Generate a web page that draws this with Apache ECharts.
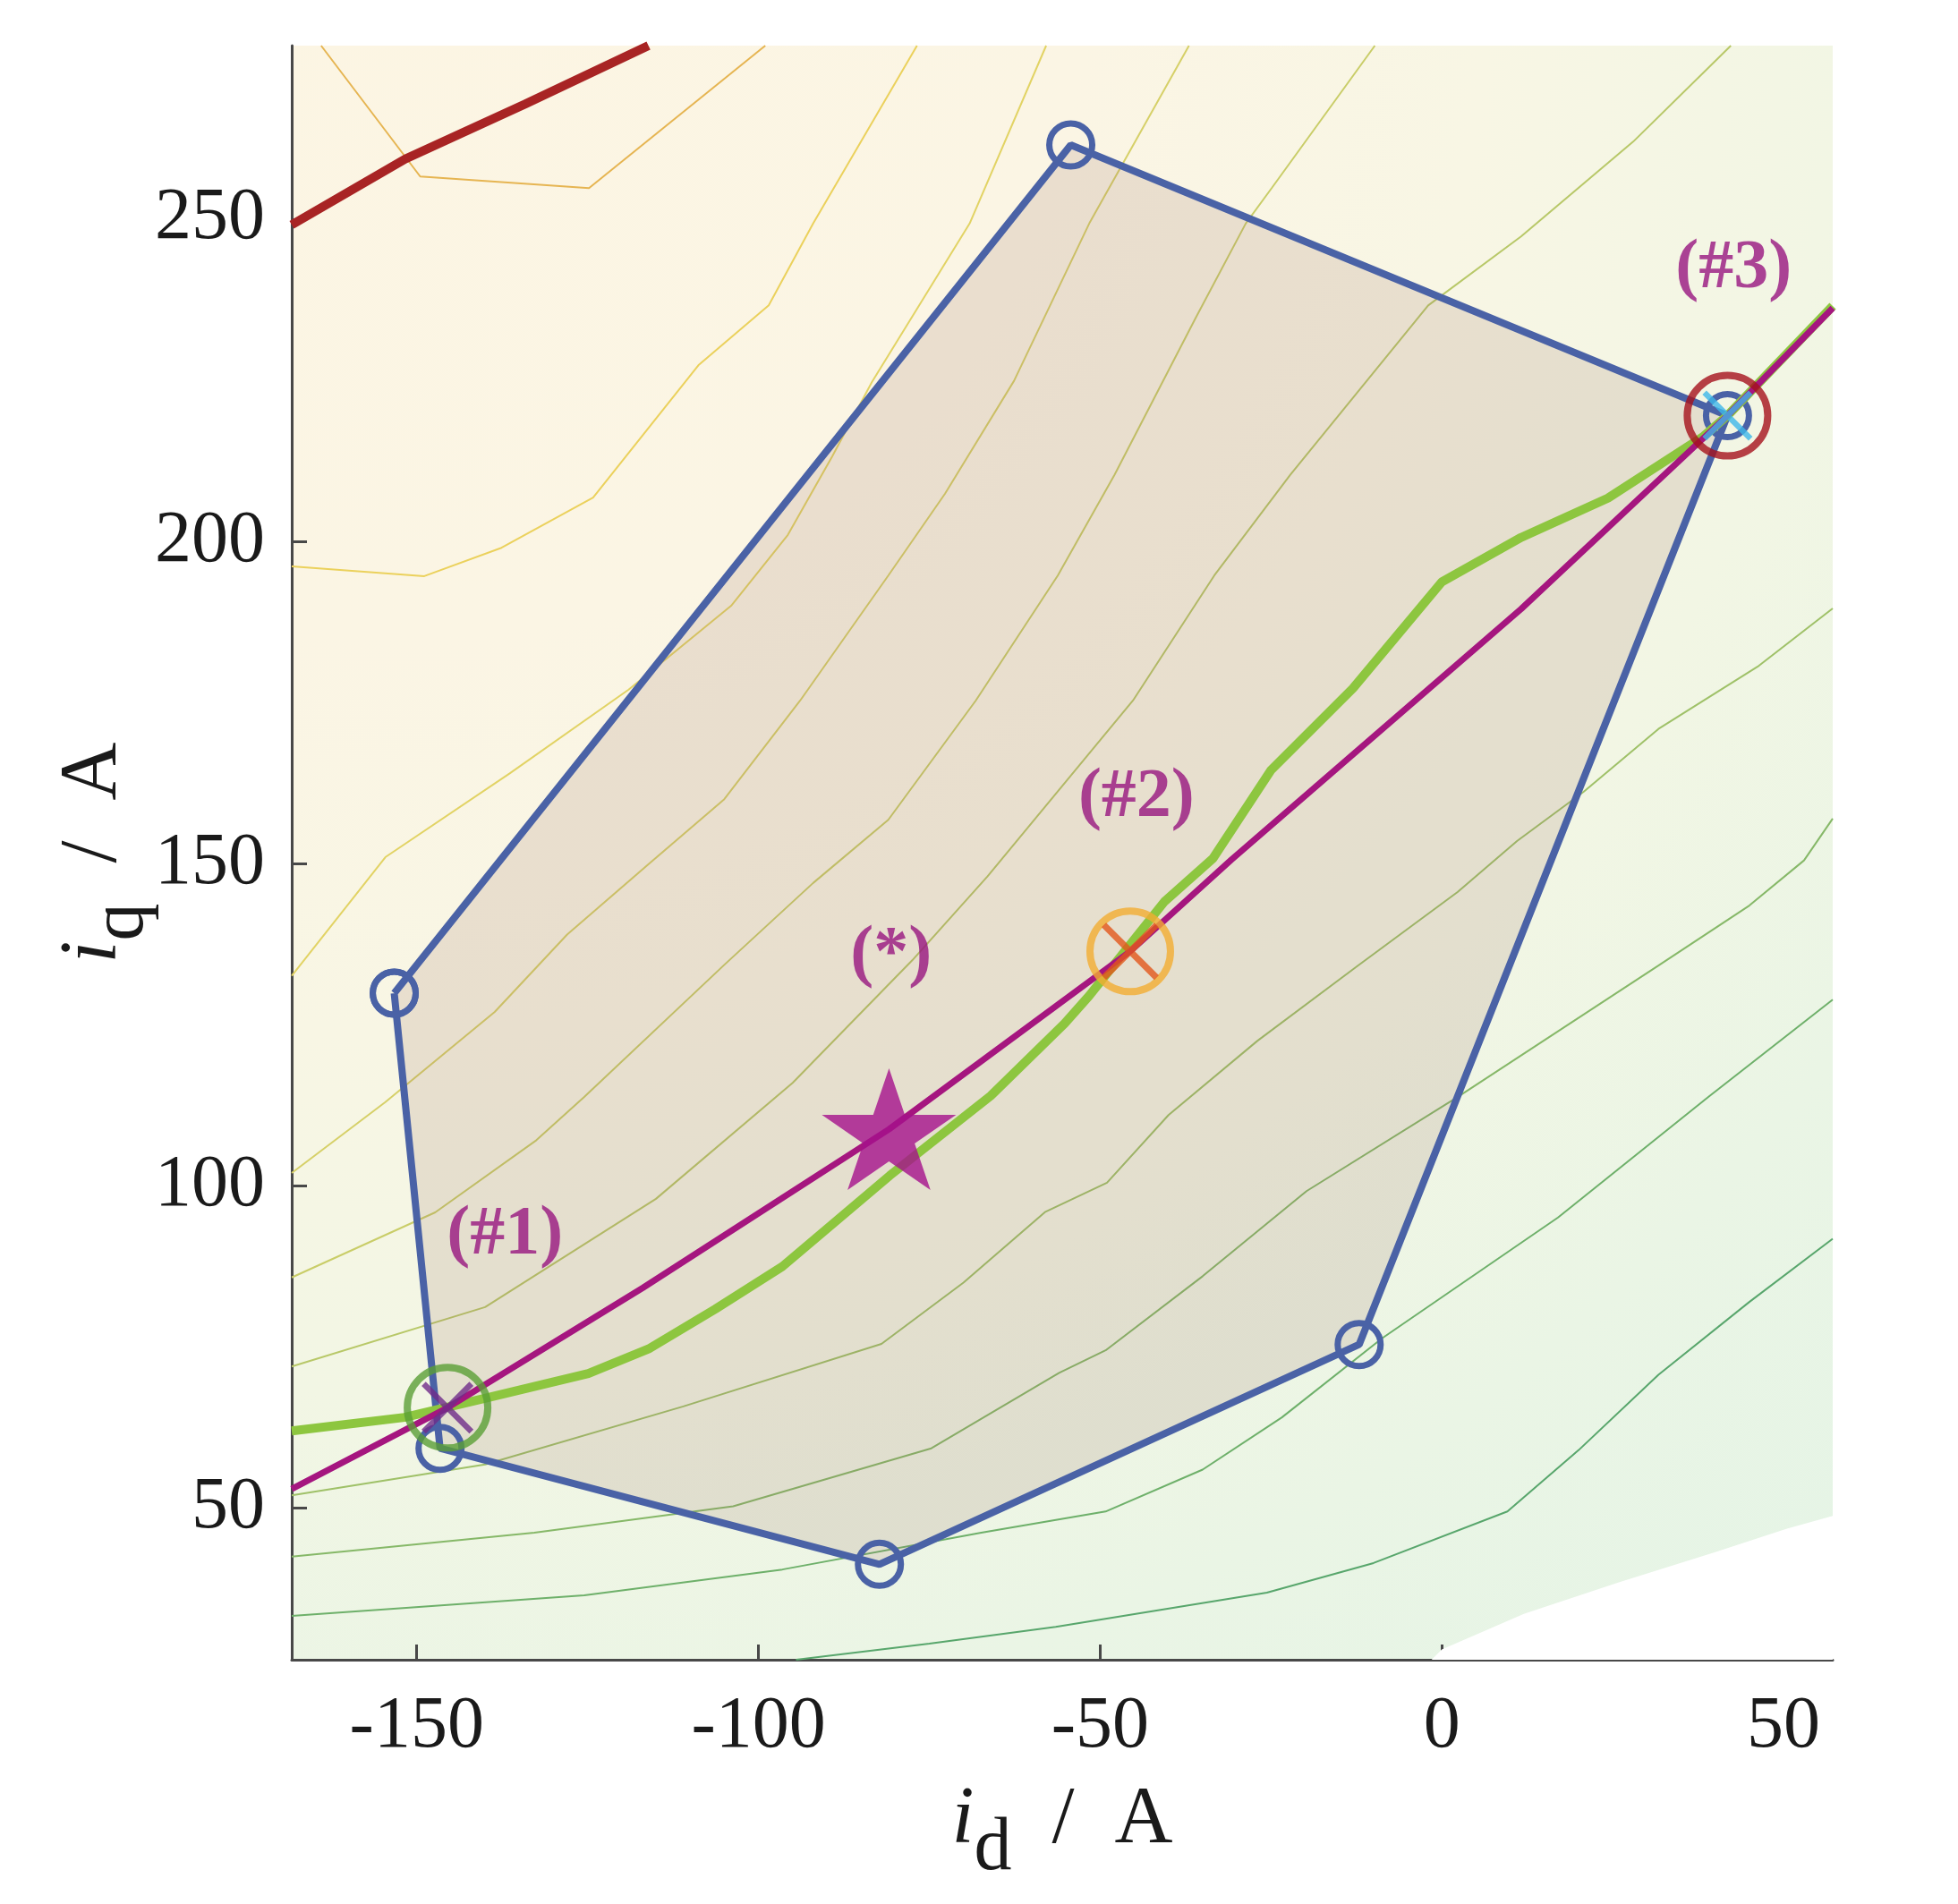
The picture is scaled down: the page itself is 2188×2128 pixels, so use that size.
<!DOCTYPE html>
<html>
<head>
<meta charset="utf-8">
<title>id / iq operating plane</title>
<script src="https://cdn.jsdelivr.net/npm/echarts@6/dist/echarts.min.js"></script>
<style>
  html, body { margin: 0; padding: 0; background: #ffffff; }
  #chart { width: 2188px; height: 2128px; }
</style>
</head>
<body>
<div id="chart"></div>
<script>
// axis ticks
var xTicks = [-150, -100, -50, 0, 50];
var yTicks = [50, 100, 150, 200, 250];

// contour lines [id, iq], from the top-left (yellow) to the bottom-right (green)
var c1 = [[-164, 276.9], [-149.5, 256.6], [-124.8, 254.8], [-99, 276.9]];
var c2 = [[-168.3, 196.1], [-148.9, 194.6], [-137.6, 199], [-124.2, 206.8], [-108.8, 227.3], [-98.5, 236.6], [-92, 249.3], [-76.8, 276.9]];
var c3 = [[-168.3, 132.6], [-154.6, 151], [-136.4, 164], [-119, 177], [-104, 190], [-95.7, 201], [-89.2, 213.2], [-83.4, 224.7], [-69.1, 249.3], [-57.9, 276.9]];
var c4 = [[-168.3, 102], [-154.6, 113], [-138.6, 127], [-128, 139], [-116, 150], [-105, 160], [-93.9, 175.3], [-81, 194.7], [-72.7, 207.4], [-62.6, 224.9], [-51.6, 249.3], [-37, 276.9]];
var c5 = [[-168.3, 85.8], [-147.3, 95.9], [-132.5, 107.1], [-125.5, 113.8], [-104.9, 134.4], [-92, 147], [-81, 156.8], [-68.2, 175.3], [-56.2, 194.7], [-47.9, 210.3], [-36, 234.7], [-28.7, 249.3], [-24.9, 254.8], [-9.8, 276.9]];
var c6 = [[-168.3, 72], [-140, 81.2], [-115, 98], [-95, 116], [-77.5, 135], [-66.5, 148], [-45.2, 175.3], [-33.3, 194.7], [-22.2, 210.3], [-2, 236.6], [11.6, 247.3], [28, 262], [42.3, 276.9]];
var c7 = [[-168.3, 52], [-140, 56.8], [-111, 65.8], [-82, 75.5], [-70, 85], [-58, 96], [-49, 100.5], [-40, 111], [-27, 122.5], [-12.5, 134], [2.3, 145.6], [11, 153.5], [20.7, 161.1], [31.7, 170.9], [46.4, 180.7], [57.2, 189.6]];
var c8 = [[-168.3, 42.5], [-132.8, 46.2], [-103.7, 50.3], [-74.7, 59.3], [-56, 71], [-49.2, 74.5], [-35, 86], [-19.8, 99.2], [2.3, 113.8], [17, 124], [31.7, 134.2], [45, 143.5], [53, 150.5], [57.2, 157]];
var c9 = [[-168.3, 33.3], [-125.5, 36.5], [-96.5, 40.5], [-67.4, 46.2], [-49.2, 49.5], [-35, 56], [-23.4, 64.1], [-8.7, 76.4], [17, 95.1], [39, 113.8], [57.2, 128.9]];
var c10 = [[-94.5, 26.5], [-75, 29], [-56.5, 31.6], [-25.6, 36.9], [-10, 41.5], [9.6, 49.5], [20, 59], [31.7, 70.7], [45, 82], [57.2, 91.8]];
var contours = [c1, c2, c3, c4, c5, c6, c7, c8, c9, c10];
var contourColors = ['#e6b552', '#ebd15c', '#e2d364', '#d6d068', '#c9cd68', '#b8c868', '#9fc168', '#86b868', '#6eb06a', '#58a66c'];

// region without data (bottom right corner)
var blankRegion = [[57.2, 48.8], [50.4, 46.8], [40, 43.2], [25.9, 38.5], [12, 33.6], [0, 28.1], [-1.5, 26.5], [57.2, 26.5]];

// operating polygon (blue)
var polygon = [[-153.3, 129.9], [-54.3, 261.5], [41.8, 219.5], [-12.1, 75.4], [-82.3, 41.3], [-146.6, 59.3], [-153.3, 129.9]];

// curves
var redLine = [[-168.3, 249.1], [-151.7, 259.3], [-134.2, 267.8], [-116.1, 276.9]];
var greenLine = [[-168.3, 62], [-151.8, 64.1], [-139.5, 67.2], [-124.9, 70.9], [-116.1, 74.7], [-106.3, 80.9], [-96.5, 87.5], [-80.8, 101.6], [-66, 114], [-55.2, 125.2], [-51.6, 129.5], [-40.6, 144.1], [-33.5, 150.8], [-25, 164.5], [-13, 177.2], [0, 193.7], [11.6, 200.6], [24.3, 206.7], [38.3, 216.3], [41.8, 219.5], [57.2, 236.5]];
var magentaLine = [[-168.3, 53], [-145.5, 65.6], [-116.9, 84.2], [-80.9, 108.8], [-45.6, 136.4], [-30.8, 150.6], [-10, 169.7], [11.6, 189.5], [41.8, 219.5], [57.2, 236.2]];

// marked points
var point1 = [-145.5, 65.6];
var point2 = [-45.6, 136.4];
var point3 = [41.8, 219.5];
var pointStar = [-80.9, 108.8];

// annotations
var noteText = ['(#1)', '(#2)', '(#3)', '(*)'];
var noteX = [-137.1, -44.7, 42.7, -80.6];
var noteY = [92.3, 160.2, 242.2, 135.8];

var serif = '"Liberation Serif", "DejaVu Serif", serif';
var crossPath = 'path://M0,8L8,0L50,42L92,0L100,8L58,50L100,92L92,100L50,58L8,100L0,92L42,50Z';
var starPath = 'path://M50,0L61.2,34.5L97.6,34.5L68.2,55.9L79.4,90.5L50,69.1L20.6,90.5L31.8,55.9L2.4,34.5L38.8,34.5Z';

var myChart = echarts.init(document.getElementById('chart'));

function polygonSeries(points, fill, z) {
  return {
    type: 'custom',
    z: z,
    silent: true,
    clip: true,
    animation: false,
    data: points,
    encode: { x: 0, y: 1 },
    renderItem: function (params, api) {
      if (params.dataIndex !== 0) return null;
      var pts = points.map(function (p) { return api.coord(p); });
      return { type: 'polygon', shape: { points: pts }, style: { fill: fill } };
    }
  };
}

function ringSeries(p, size, color, width) {
  return {
    type: 'scatter', z: 20, silent: true, animation: false,
    data: [p], symbol: 'circle', symbolSize: size,
    itemStyle: { color: 'rgba(0,0,0,0)', borderColor: color, borderWidth: width }
  };
}

function crossSeries(p, size, color) {
  return {
    type: 'scatter', z: 21, silent: true, animation: false,
    data: [p], symbol: crossPath, symbolSize: size,
    itemStyle: { color: color }
  };
}

var series = [];
series.push(polygonSeries(blankRegion, '#ffffff', 1));
contours.forEach(function (c, i) {
  series.push({
    type: 'line', z: 2, data: c, symbol: 'none', silent: true, animation: false,
    lineStyle: { color: contourColors[i], width: 2 }
  });
});
series.push(polygonSeries(polygon, 'rgba(150,106,92,0.16)', 3));
series.push({
  type: 'line', z: 4, data: redLine, symbol: 'none', silent: true, animation: false,
  lineStyle: { color: '#a82424', width: 10 }
});
series.push({
  type: 'line', z: 5, data: polygon, symbol: 'circle', symbolSize: 48, showAllSymbol: true,
  silent: true, animation: false,
  lineStyle: { color: '#4a62a6', width: 8 },
  itemStyle: { color: 'rgba(0,0,0,0)', borderColor: '#4a62a6', borderWidth: 7 }
});
series.push({
  type: 'line', z: 6, data: greenLine, symbol: 'none', silent: true, animation: false,
  lineStyle: { color: '#8dc63f', width: 10 }
});
series.push({
  type: 'line', z: 7, data: magentaLine, symbol: 'none', silent: true, animation: false,
  lineStyle: { color: '#a5167f', width: 7 }
});
series.push(ringSeries(point1, 90, '#5a9f36', 8));
series.push(crossSeries(point1, 58, '#6f2c8a'));
series.push(ringSeries(point2, 90, '#f2ac32', 8));
series.push(crossSeries(point2, 64, '#e2561b'));
series.push(ringSeries(point3, 90, '#a5121c', 8));
series.push(crossSeries(point3, 56, '#3db8ea'));
series.push({
  type: 'scatter', z: 22, silent: true, animation: false,
  data: [pointStar], symbol: starPath, symbolSize: [150, 143], symbolKeepAspect: true,
  itemStyle: { color: '#a5108c' }
});
series.push({
  type: 'scatter', z: 23, silent: true, animation: false,
  data: noteText.map(function (t, i) { return { name: t, value: [noteX[i], noteY[i]] }; }),
  symbol: 'circle', symbolSize: 1,
  itemStyle: { color: 'rgba(0,0,0,0)' },
  label: {
    show: true, position: 'inside',
    formatter: function (p) { return p.name; },
    fontFamily: serif, fontWeight: 'bold', fontSize: 78, color: '#971580'
  }
});

var axisLineStyle = { color: '#484848', width: 3 };
var nameRich = {
  i: { fontFamily: serif, fontStyle: 'italic', fontSize: 90, color: '#1a1a1a', lineHeight: 100 },
  s: { fontFamily: serif, fontSize: 84, color: '#1a1a1a', lineHeight: 36, padding: [64, 0, 0, 0] },
  n: { fontFamily: serif, fontSize: 90, color: '#1a1a1a', lineHeight: 100 }
};

myChart.setOption({
  backgroundColor: '#ffffff',
  animation: false,
  grid: {
    left: 326, right: 140, top: 51, bottom: 273,
    show: true, borderWidth: 0,
    backgroundColor: new echarts.graphic.RadialGradient(0.08, -0.05, 1.45, [
      { offset: 0, color: '#fcf5e3' },
      { offset: 0.3, color: '#fbf5e4' },
      { offset: 0.48, color: '#f8f6e4' },
      { offset: 0.64, color: '#f2f6e4' },
      { offset: 0.8, color: '#eaf5e5' },
      { offset: 1, color: '#e4f4e6' }
    ])
  },
  xAxis: {
    type: 'value', min: -168.3, max: 57.2,
    splitLine: { show: false },
    axisLine: { show: true, onZero: false, lineStyle: axisLineStyle },
    axisTick: { show: true, inside: true, length: 17, customValues: xTicks, lineStyle: axisLineStyle },
    axisLabel: { customValues: xTicks, fontFamily: serif, fontSize: 82, color: '#1a1a1a', margin: 34 },
    name: '{i|i}{s|d}{n|  /  A}',
    nameLocation: 'middle',
    nameMoveOverlap: false,
    nameGap: 130,
    nameTextStyle: { rich: nameRich }
  },
  yAxis: {
    type: 'value', min: 26.5, max: 276.9,
    splitLine: { show: false },
    axisLine: { show: true, onZero: false, lineStyle: axisLineStyle },
    axisTick: { show: true, inside: true, length: 17, customValues: yTicks, lineStyle: axisLineStyle },
    axisLabel: { customValues: yTicks, fontFamily: serif, fontSize: 82, color: '#1a1a1a', margin: 30 },
    name: '{i|i}{s|q}{n|  /  A}',
    nameLocation: 'middle',
    nameMoveOverlap: false,
    nameGap: 171,
    nameTextStyle: { rich: nameRich }
  },
  series: series
});
</script>
</body>
</html>
